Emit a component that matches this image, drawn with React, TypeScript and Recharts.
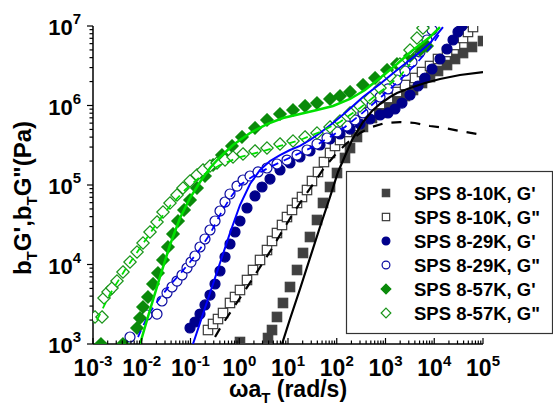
import { ScatterChart, Scatter, XAxis, YAxis } from "recharts";

// every row is [log10(ωa_T), log10(b_T G)]
type Row = [number, number];

const xMajor = [1e-3, 1e-2, 1e-1, 1e0, 1e1, 1e2, 1e3, 1e4, 1e5];
const yMajor = [1e3, 1e4, 1e5, 1e6, 1e7];

// SPS 8-10K
const k10Storage: Row[] = [
  [0.015, 3.025], [0.59, 3.075], [0.672, 3.176], [0.774, 3.34], [0.897, 3.516], [1.041, 3.717],
  [1.185, 3.931], [1.308, 4.145], [1.451, 4.346], [1.595, 4.56], [1.718, 4.774], [1.862, 4.975],
  [2.005, 5.151], [2.169, 5.34], [2.272, 5.465], [2.415, 5.604], [2.538, 5.73], [2.723, 5.843],
  [2.887, 5.906], [3.092, 5.994], [3.236, 6.044], [3.4, 6.119], [3.564, 6.195], [3.749, 6.283],
  [3.913, 6.358], [4.077, 6.434], [4.262, 6.509], [4.426, 6.585], [4.59, 6.66], [4.774, 6.736],
  [5.0, 6.811],
];
const k10Loss: Row[] = [
  [-0.641, 3.176], [-0.538, 3.252], [-0.436, 3.314], [-0.333, 3.39], [-0.19, 3.516], [-0.087, 3.591],
  [0.015, 3.679], [0.159, 3.805], [0.282, 3.931], [0.426, 4.057], [0.569, 4.182], [0.672, 4.296],
  [0.774, 4.396], [0.877, 4.497], [0.979, 4.597], [1.082, 4.686], [1.185, 4.774], [1.287, 4.849],
  [1.39, 4.937], [1.492, 5.05], [1.615, 5.164], [1.738, 5.289], [1.862, 5.403], [1.964, 5.491],
  [2.067, 5.566], [2.21, 5.667], [2.333, 5.742], [2.436, 5.792], [2.538, 5.843], [2.682, 5.918],
  [2.887, 6.019], [3.051, 6.094], [3.236, 6.17], [3.4, 6.258], [3.605, 6.346], [3.749, 6.421],
  [3.913, 6.497], [4.077, 6.585], [4.262, 6.673], [4.426, 6.761], [4.59, 6.849], [4.692, 6.925],
  [4.795, 6.987],
];
const fit10Storage: Row[] = [
  [0.877, 3.0], [1.041, 3.314], [1.246, 3.692], [1.451, 4.082], [1.656, 4.472], [1.862, 4.849],
  [2.026, 5.164], [2.169, 5.365], [2.313, 5.566], [2.538, 5.792], [2.723, 5.931], [2.887, 6.019],
  [3.092, 6.107], [3.236, 6.157], [3.503, 6.22], [3.81, 6.283], [4.118, 6.333], [4.528, 6.384],
  [5.0, 6.421],
];
const fit10Loss: Row[] = [
  [-0.497, 3.088], [-0.354, 3.239], [-0.149, 3.428], [0.097, 3.654], [0.364, 3.906], [0.651, 4.182],
  [0.897, 4.434], [1.123, 4.66], [1.328, 4.849], [1.533, 5.025], [1.738, 5.214], [1.964, 5.377],
  [2.21, 5.528], [2.477, 5.654], [2.723, 5.73], [2.99, 5.78], [3.297, 5.792], [3.605, 5.78],
  [3.913, 5.742], [4.221, 5.717], [4.528, 5.679], [5.0, 5.629],
];

// SPS 8-29K
const k29Storage: Row[] = [
  [-1.01, 3.201], [-0.908, 3.277], [-0.805, 3.377], [-0.703, 3.491], [-0.6, 3.616], [-0.497, 3.755],
  [-0.395, 3.918], [-0.292, 4.094], [-0.19, 4.258], [-0.087, 4.409], [0.015, 4.547], [0.159, 4.711],
  [0.323, 4.862], [0.467, 4.975], [0.631, 5.075], [0.836, 5.189], [1.041, 5.277], [1.246, 5.352],
  [1.451, 5.428], [1.656, 5.503], [1.862, 5.579], [2.067, 5.642], [2.272, 5.704], [2.477, 5.767],
  [2.682, 5.83], [2.887, 5.881], [3.051, 5.906], [3.195, 5.956], [3.338, 6.031], [3.503, 6.132],
  [3.667, 6.245], [3.81, 6.346], [3.954, 6.459], [4.118, 6.585], [4.262, 6.711], [4.385, 6.824],
  [4.487, 6.925], [4.569, 7.0],
];
const k29Loss: Row[] = [
  [-2.241, 3.088], [-1.892, 3.365], [-1.687, 3.377], [-1.585, 3.541], [-1.482, 3.642], [-1.379, 3.717],
  [-1.277, 3.792], [-1.174, 3.868], [-1.072, 3.956], [-0.99, 4.031], [-0.908, 4.107], [-0.805, 4.22],
  [-0.703, 4.321], [-0.6, 4.434], [-0.497, 4.547], [-0.395, 4.673], [-0.292, 4.786], [-0.19, 4.887],
  [-0.046, 4.987], [0.077, 5.063], [0.221, 5.113], [0.385, 5.164], [0.569, 5.214], [0.774, 5.264],
  [0.979, 5.314], [1.185, 5.377], [1.39, 5.44], [1.595, 5.516], [1.8, 5.591], [2.005, 5.667],
  [2.21, 5.742], [2.374, 5.818], [2.538, 5.906], [2.723, 6.006], [2.887, 6.107], [3.051, 6.208],
  [3.236, 6.321], [3.4, 6.434], [3.544, 6.547], [3.708, 6.673], [3.851, 6.824], [3.954, 6.95],
];
const fit29Storage: Row[] = [
  [-0.949, 3.0], [-0.805, 3.264], [-0.6, 3.642], [-0.395, 4.019], [-0.19, 4.396], [0.015, 4.748],
  [0.221, 5.013], [0.426, 5.189], [0.631, 5.302], [0.836, 5.377], [1.041, 5.44], [1.246, 5.491],
  [1.451, 5.566], [1.656, 5.654], [1.923, 5.78], [2.169, 5.906], [2.538, 6.107], [2.887, 6.27],
  [3.236, 6.447], [3.605, 6.623], [3.913, 6.786], [4.179, 6.987],
];
const fit29Loss: Row[] = [
  [-2.077, 3.088], [-1.933, 3.277], [-1.831, 3.403], [-1.626, 3.579], [-1.421, 3.742], [-1.215, 3.881],
  [-1.01, 4.031], [-0.805, 4.195], [-0.6, 4.384], [-0.395, 4.623], [-0.19, 4.836], [0.015, 5.0],
  [0.323, 5.126], [0.631, 5.226], [0.938, 5.314], [1.246, 5.403], [1.554, 5.491], [1.862, 5.604],
  [2.169, 5.73], [2.477, 5.881], [2.887, 6.094], [3.297, 6.321], [3.605, 6.509], [3.913, 6.723],
  [4.118, 6.912],
];

// SPS 8-57K
const k57Storage: Row[] = [
  [-2.836, 3.0], [-2.385, 3.0], [-2.097, 3.201], [-2.036, 3.327], [-1.974, 3.465], [-1.872, 3.591],
  [-1.769, 3.755], [-1.667, 3.893], [-1.564, 4.057], [-1.462, 4.22], [-1.359, 4.384], [-1.256, 4.547],
  [-1.133, 4.686], [-1.01, 4.811], [-0.867, 4.962], [-0.703, 5.113], [-0.538, 5.252], [-0.354, 5.377],
  [-0.149, 5.491], [0.056, 5.604], [0.323, 5.717], [0.569, 5.818], [0.836, 5.893], [1.103, 5.943],
  [1.349, 5.994], [1.595, 6.031], [1.862, 6.082], [2.067, 6.119], [2.272, 6.17], [2.538, 6.258],
  [2.785, 6.346], [3.031, 6.447], [3.236, 6.522], [3.503, 6.623], [3.708, 6.698], [3.851, 6.748],
];
const k57Loss: Row[] = [
  [-2.959, 3.34], [-2.815, 3.34], [-2.774, 3.579], [-2.692, 3.654], [-2.61, 3.704], [-2.508, 3.792],
  [-2.385, 3.906], [-2.241, 4.031], [-2.097, 4.157], [-1.974, 4.27], [-1.831, 4.409], [-1.687, 4.535],
  [-1.564, 4.66], [-1.421, 4.774], [-1.277, 4.874], [-1.154, 4.962], [-1.01, 5.05], [-0.867, 5.126],
  [-0.744, 5.189], [-0.6, 5.239], [-0.456, 5.277], [-0.292, 5.314], [-0.128, 5.352], [0.077, 5.39],
  [0.323, 5.428], [0.569, 5.465], [0.836, 5.516], [1.103, 5.553], [1.349, 5.604], [1.595, 5.654],
  [1.862, 5.73], [2.067, 5.805], [2.272, 5.906], [2.477, 5.994], [2.682, 6.094], [2.887, 6.22],
  [3.092, 6.371], [3.297, 6.522], [3.503, 6.698], [3.646, 6.849], [3.769, 6.975],
];
const fit57Storage: Row[] = [
  [-2.036, 3.0], [-1.831, 3.428], [-1.626, 3.843], [-1.421, 4.245], [-1.215, 4.585], [-1.01, 4.836],
  [-0.805, 5.038], [-0.6, 5.214], [-0.395, 5.352], [-0.128, 5.503], [0.221, 5.654], [0.569, 5.767],
  [0.897, 5.843], [1.246, 5.893], [1.595, 5.943], [1.923, 5.994], [2.272, 6.082], [2.579, 6.195],
  [2.887, 6.346], [3.236, 6.522], [3.564, 6.698], [3.913, 6.862], [4.118, 6.987],
];
const fit57Loss: Row[] = [
  [-2.918, 3.302], [-2.651, 3.629], [-2.344, 3.931], [-2.036, 4.208], [-1.728, 4.484], [-1.421, 4.736],
  [-1.113, 4.937], [-0.805, 5.101], [-0.395, 5.252], [0.015, 5.352], [0.426, 5.415], [0.836, 5.491],
  [1.246, 5.566], [1.656, 5.667], [2.067, 5.792], [2.477, 5.969], [2.887, 6.17], [3.297, 6.371],
  [3.503, 6.522],
];

const toPoints = (rows: Row[]) => rows.map(([lw, lg]) => ({ w: 10 ** lw, g: 10 ** lg }));

// 2..9 inside each decade, for the minor ticks
const withMinors = (majors: number[]) => {
  const out: number[] = [];
  majors.forEach((m, i) => {
    out.push(m);
    if (i < majors.length - 1) for (let k = 2; k <= 9; k++) out.push(k * m);
  });
  return out;
};
const isMajor = (v: number) => Math.abs(Math.log10(v) - Math.round(Math.log10(v))) < 1e-6;

type Kind = "square" | "circle" | "diamond";

const series: { name: string; rows: Row[]; kind: Kind; color: string; filled: boolean }[] = [
  { name: "SPS 8-10K, G'", rows: k10Storage, kind: "square", color: "#404040", filled: true },
  { name: 'SPS 8-10K, G"', rows: k10Loss, kind: "square", color: "#3a3a3a", filled: false },
  { name: "SPS 8-29K, G'", rows: k29Storage, kind: "circle", color: "#00008b", filled: true },
  { name: 'SPS 8-29K, G"', rows: k29Loss, kind: "circle", color: "#0a0aa0", filled: false },
  { name: "SPS 8-57K, G'", rows: k57Storage, kind: "diamond", color: "#0a8a0a", filled: true },
  { name: 'SPS 8-57K, G"', rows: k57Loss, kind: "diamond", color: "#199419", filled: false },
];

const fits: { rows: Row[]; color: string; width: number; dash?: string }[] = [
  { rows: fit10Storage, color: "#000", width: 2.2 },
  { rows: fit10Loss, color: "#000", width: 2.2, dash: "10 9" },
  { rows: fit29Storage, color: "#0000ff", width: 2 },
  { rows: fit29Loss, color: "#0000ff", width: 1.8, dash: "7 6" },
  { rows: fit57Storage, color: "#00e000", width: 2.5 },
  { rows: fit57Loss, color: "#00e000", width: 1.8, dash: "7 6" },
];

const FONT = "Arial, 'Liberation Sans', sans-serif";

// half sizes of the symbols in the plot; the legend draws them a bit smaller
const HALF = { square: 4.7, circle: 5, diamond: 6.2 };

function Marker({ kind, cx, cy, color, filled, s = 1 }: any) {
  const fill = filled ? color : "#fff";
  const h = HALF[kind as Kind] * s;
  if (kind === "square") {
    return <rect x={cx - h} y={cy - h} width={2 * h} height={2 * h} fill={fill} stroke={color} strokeWidth={1.2} />;
  }
  if (kind === "circle") {
    return <circle cx={cx} cy={cy} r={h} fill={fill} stroke={color} strokeWidth={1.2} />;
  }
  return (
    <polygon
      points={`${cx},${cy - h} ${cx + h},${cy} ${cx},${cy + h} ${cx - h},${cy}`}
      fill={fill}
      stroke={color}
      strokeWidth={1.2}
    />
  );
}

function XTick({ x, y, payload }: any) {
  const v = payload.value;
  const major = isMajor(v);
  return (
    <g>
      <line x1={x} x2={x} y1={y} y2={y - (major ? 6 : 3.5)} stroke="#000" strokeWidth={1.2} />
      {major && (
        <text x={x} y={y + 32} textAnchor="middle" fontFamily={FONT} fontWeight="bold" fontSize={23} fill="#000">
          10
          <tspan dy={-10} fontSize={15}>
            {Math.round(Math.log10(v))}
          </tspan>
        </text>
      )}
    </g>
  );
}

function YTick({ x, y, payload }: any) {
  const v = payload.value;
  const major = isMajor(v);
  return (
    <g>
      <line x1={x} x2={x - (major ? 6 : 3.5)} y1={y} y2={y} stroke="#000" strokeWidth={1.2} />
      {major && (
        <text x={x - 12} y={y + 9} textAnchor="end" fontFamily={FONT} fontWeight="bold" fontSize={22} fill="#000">
          10
          <tspan dy={-11} fontSize={15}>
            {Math.round(Math.log10(v))}
          </tspan>
        </text>
      )}
    </g>
  );
}

export default function App() {
  return (
    <div style={{ position: "absolute", left: 0, top: 0, width: 553, height: 406, background: "#fff" }}>
      <ScatterChart width={553} height={406} margin={{ top: 26, right: 70, bottom: 0, left: 0 }}>
        <XAxis
          type="number"
          dataKey="w"
          scale="log"
          domain={[1e-3, 1e5]}
          allowDataOverflow
          ticks={withMinors(xMajor)}
          interval={0}
          height={62}
          tickLine={false}
          tickSize={0}
          tickMargin={0}
          tick={(p: any) => <XTick {...p} />}
          axisLine={{ stroke: "#000", strokeWidth: 1.5 }}
        />
        <YAxis
          type="number"
          dataKey="g"
          scale="log"
          domain={[1e3, 1e7]}
          allowDataOverflow
          ticks={withMinors(yMajor)}
          interval={0}
          width={93}
          tickLine={false}
          tickSize={0}
          tickMargin={0}
          tick={(p: any) => <YTick {...p} />}
          axisLine={{ stroke: "#000", strokeWidth: 1.5 }}
        />
        {series.map((s) => (
          <Scatter
            key={s.name}
            name={s.name}
            data={toPoints(s.rows)}
            isAnimationActive={false}
            shape={(p: any) => <Marker kind={s.kind} cx={p.cx} cy={p.cy} color={s.color} filled={s.filled} />}
          />
        ))}
        {fits.map((f, i) => (
          <Scatter
            key={`fit-${i}`}
            data={toPoints(f.rows)}
            isAnimationActive={false}
            line={{ stroke: f.color, strokeWidth: f.width, strokeDasharray: f.dash, fill: "none" }}
            shape={() => <g />}
          />
        ))}
      </ScatterChart>

      <svg
        width={553}
        height={406}
        style={{ position: "absolute", left: 0, top: 0, pointerEvents: "none" }}
        fontFamily={FONT}
        fontWeight="bold"
      >
        <rect x={346.5} y={171.5} width={206} height={162} fill="#fff" stroke="#333" strokeWidth={1.2} />
        {series.map((s, i) => (
          <g key={s.name}>
            <Marker kind={s.kind} cx={386} cy={193 + i * 24} color={s.color} filled={s.filled} s={0.78} />
            <text x={414} y={199.5 + i * 24} fontSize={18.5} fill="#000">
              {s.name}
            </text>
          </g>
        ))}

        <text x={288} y={397} textAnchor="middle" fontSize={23} fill="#000">
          ωa
          <tspan dy={6} fontSize={15}>T</tspan>
          <tspan dy={-6}> (rad/s)</tspan>
        </text>

        <text transform="translate(31,198) rotate(-90)" textAnchor="middle" fontSize={24} fill="#000">
          b<tspan dy={6} fontSize={15}>T</tspan>
          <tspan dy={-6}>G',b</tspan>
          <tspan dy={6} fontSize={15}>T</tspan>
          <tspan dy={-6}>G"(Pa)</tspan>
        </text>
      </svg>
    </div>
  );
}
